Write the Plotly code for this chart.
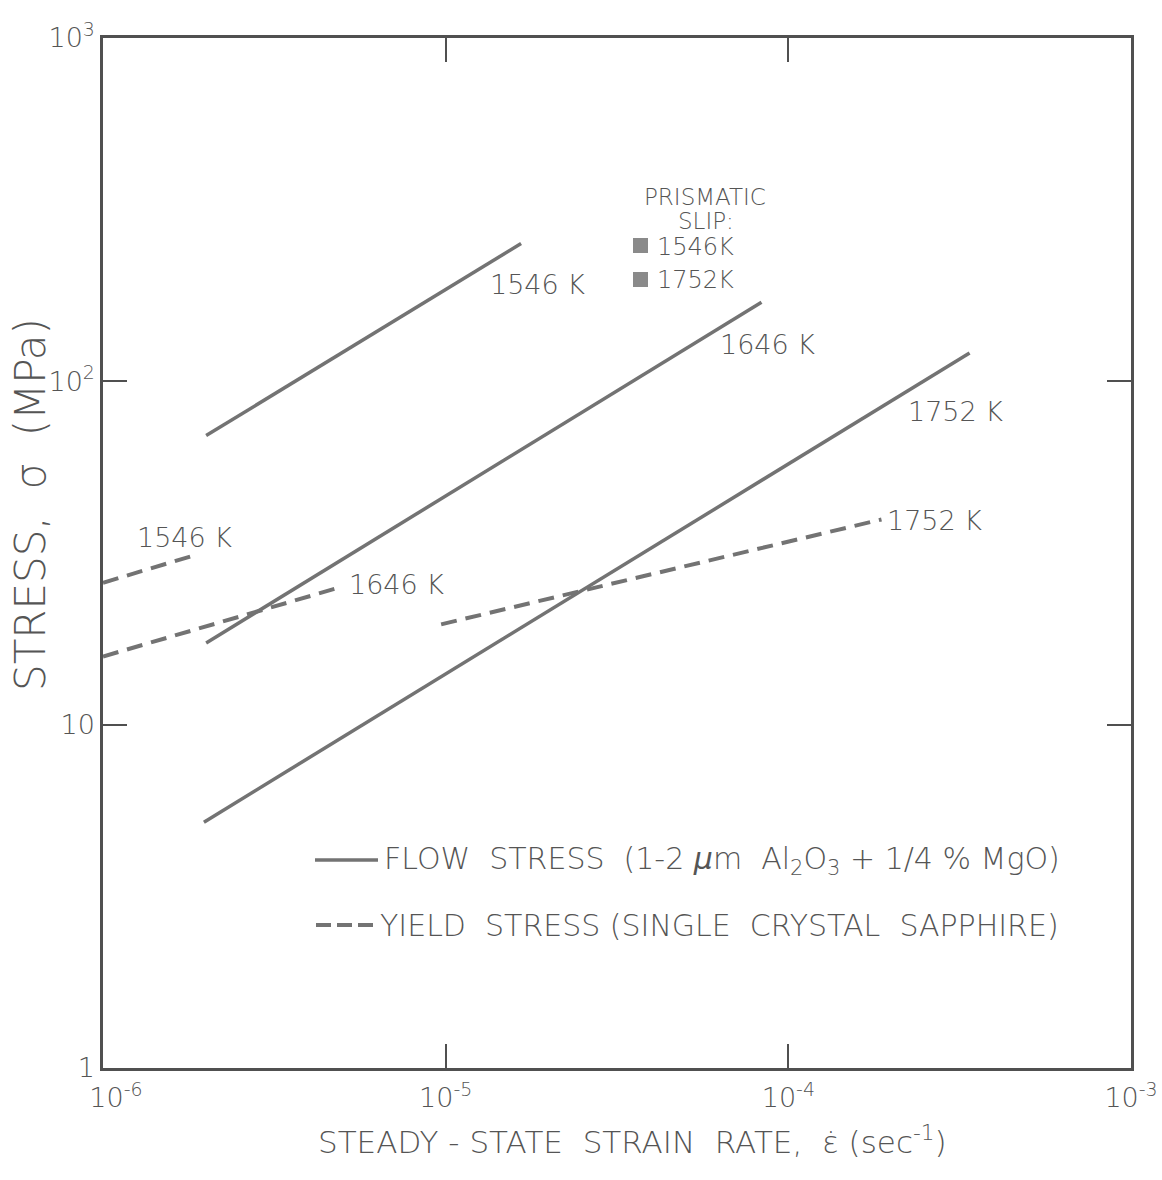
import numpy as np
import plotly.graph_objects as go

# ---- data ----
flow_1546_x = [2.0e-6, 1.66e-5]
flow_1546_y = [69.5, 252]
flow_1646_x = [2.0e-6, 8.35e-5]
flow_1646_y = [17.3, 170]
flow_1752_x = [1.97e-6, 3.38e-4]
flow_1752_y = [5.2, 121]

yield_1546_x = [1.0e-6, 1.80e-6]
yield_1546_y = [25.9, 30.9]
yield_1646_x = [1.0e-6, 4.9e-6]
yield_1646_y = [15.8, 25.1]
yield_1752_x = [9.7e-6, 1.87e-4]
yield_1752_y = [19.6, 39.6]

x_tickvals = [1e-6, 1e-5, 1e-4, 1e-3]
x_ticktext = ["\u00a0\u00a0\u00a010<sup>-6</sup>", "10<sup>-5</sup>", "10<sup>-4</sup>", "10<sup>-3</sup>"]
y_tickvals = [1, 10, 100, 1000]
y_ticktext = ["1", "10", "10<sup>2</sup>", "10<sup>3</sup>"]

line_labels = [  # (text, x, y)
    ("1546 K", 1.33e-5, 192),
    ("1646 K", 6.24e-5, 128),
    ("1752 K", 2.21e-4, 81.8),
    ("1546 K", 1.24e-6, 35.1),
    ("1646 K", 5.17e-6, 25.6),
    ("1752 K", 1.91e-4, 39.3),
]

FONT = "DejaVu Sans"
WT = 200
COL = "#555555"
LCOL = "#737373"

fig = go.Figure()
for xs, ys in [(flow_1546_x, flow_1546_y), (flow_1646_x, flow_1646_y), (flow_1752_x, flow_1752_y)]:
    fig.add_trace(go.Scatter(x=xs, y=ys, mode="lines",
                             line=dict(color=LCOL, width=3.5), showlegend=False))
for xs, ys in [(yield_1546_x, yield_1546_y), (yield_1646_x, yield_1646_y), (yield_1752_x, yield_1752_y)]:
    fig.add_trace(go.Scatter(x=xs, y=ys, mode="lines",
                             line=dict(color=LCOL, width=4, dash="16px,9px"), showlegend=False))

annotations = []
for t, x, y in line_labels:
    annotations.append(dict(text=t, x=np.log10(x), y=np.log10(y), xref="x", yref="y",
                            xanchor="left", yanchor="middle", showarrow=False,
                            font=dict(family=FONT, size=27, color=COL, weight=WT)))

W, H = 1162, 1180
L, R, T, B = 103, 1131, 38, 1068
def px(xp):
    return (xp - L) / (R - L)
def py(yp):
    return (B - yp) / (B - T)

# prismatic slip legend
annotations.append(dict(text="PRISMATIC", x=px(705), y=py(197), xref="paper", yref="paper",
                        xanchor="center", yanchor="middle", showarrow=False,
                        font=dict(family=FONT, size=23, color=COL, weight=WT)))
annotations.append(dict(text="SLIP:", x=px(706), y=py(221), xref="paper", yref="paper",
                        xanchor="center", yanchor="middle", showarrow=False,
                        font=dict(family=FONT, size=23, color=COL, weight=WT)))
for t, yy in [("1546K", 247), ("1752K", 280)]:
    annotations.append(dict(text=t, x=px(655), y=py(yy), xref="paper", yref="paper",
                            xanchor="left", yanchor="middle", showarrow=False,
                            font=dict(family=FONT, size=24, color=COL, weight=WT)))

# bottom legend
annotations.append(dict(text="FLOW  STRESS  (1-2 <i>μ</i>m  Al<sub>2</sub>O<sub>3</sub> + 1/4 % MgO)",
                        x=px(382), y=py(860), xref="paper", yref="paper",
                        xanchor="left", yanchor="middle", showarrow=False,
                        font=dict(family=FONT, size=30, color=COL, weight=WT)))
annotations.append(dict(text="YIELD  STRESS (SINGLE  CRYSTAL  SAPPHIRE)",
                        x=px(378), y=py(925), xref="paper", yref="paper",
                        xanchor="left", yanchor="middle", showarrow=False,
                        font=dict(family=FONT, size=30, color=COL, weight=WT)))

# axis titles
annotations.append(dict(text="STEADY - STATE  STRAIN  RATE,  ε̇ (sec<sup>-1</sup>)",
                        x=px(632), y=py(1140), xref="paper", yref="paper",
                        xanchor="center", yanchor="middle", showarrow=False,
                        font=dict(family=FONT, size=31, color=COL, weight=WT)))
annotations.append(dict(text="STRESS,  σ  (MPa)", textangle=-90,
                        x=px(30), y=py(505), xref="paper", yref="paper",
                        xanchor="center", yanchor="middle", showarrow=False,
                        font=dict(family=FONT, size=42, color=COL, weight=WT)))

shapes = [
    dict(type="line", xref="paper", yref="paper", x0=px(315), x1=px(378), y0=py(860), y1=py(860),
         line=dict(color=LCOL, width=3.5)),
    dict(type="line", xref="paper", yref="paper", x0=px(316), x1=px(376), y0=py(925), y1=py(925),
         line=dict(color=LCOL, width=4, dash="15px,6px")),
    dict(type="rect", xref="paper", yref="paper", x0=px(633), x1=px(648), y0=py(253), y1=py(238),
         fillcolor="#8a8a8a", line=dict(width=0)),
    dict(type="rect", xref="paper", yref="paper", x0=px(633), x1=px(648), y0=py(287), y1=py(272),
         fillcolor="#8a8a8a", line=dict(width=0)),
]

axis_common = dict(type="log", showgrid=False, zeroline=False, showline=True,
                   linecolor="#505050", linewidth=2.5, mirror="ticks", ticks="inside",
                   ticklen=24, tickwidth=2, tickcolor="#505050", automargin=False,
                   tickfont=dict(family=FONT, size=27, color=COL, weight=WT))

fig.update_layout(
    width=W, height=H,
    margin=dict(l=L, r=W - R, t=T, b=H - B, autoexpand=False),
    paper_bgcolor="white", plot_bgcolor="white",
    xaxis=dict(axis_common, range=[-6, -3], tickvals=x_tickvals, ticktext=x_ticktext,
               ticklabelstandoff=4),
    yaxis=dict(axis_common, range=[0, 3], tickvals=y_tickvals, ticktext=y_ticktext,
               ticklabelstandoff=0),
    annotations=annotations,
    shapes=shapes,
    showlegend=False,
)

fig.write_html("out.html")
